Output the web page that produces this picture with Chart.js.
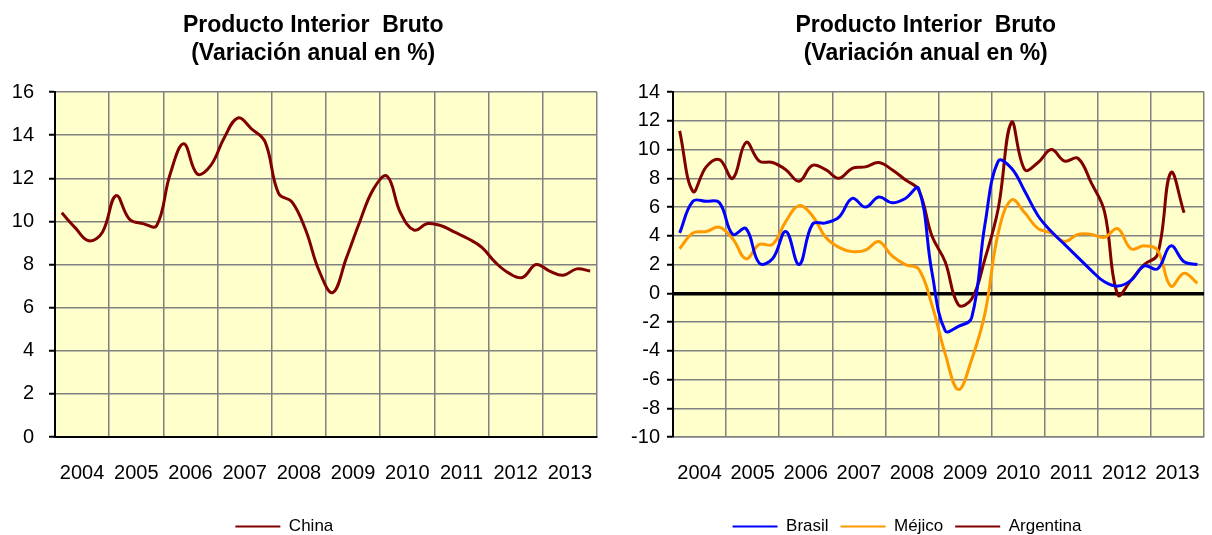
<!DOCTYPE html>
<html>
<head>
<meta charset="utf-8">
<title>Producto Interior Bruto</title>
<script src="https://cdn.jsdelivr.net/npm/chart.js@4/dist/chart.umd.min.js"></script>
<style>
  html, body { margin: 0; padding: 0; background: #fff; }
  .box { position: absolute; top: 0; height: 535px; }
  #left { left: 0; width: 610px; }
  #right { left: 610px; width: 602px; }
</style>
</head>
<body>
<div class="box" id="left"><canvas id="chinaChart"></canvas></div>
<div class="box" id="right"><canvas id="latamChart"></canvas></div>
<script>
// años del eje X (cada uno con 4 trimestres)
const years = ["2004", "2005", "2006", "2007", "2008", "2009", "2010", "2011", "2012", "2013"];
const quarters = years.flatMap(y => ["I", "II", "III", "IV"].map(q => q + " " + y));

// PIB, variación anual en %, trimestral
const china = [10.4, 9.7, 9.1, 9.5, 11.2, 10.1, 9.9, 9.8, 12.2, 13.6,
  12.2, 12.6, 13.9, 14.8, 14.3, 13.7, 11.3, 10.9, 9.6, 7.7,
  6.7, 8.3, 10.0, 11.5, 12.1, 10.4, 9.6, 9.9, 9.8, 9.5,
  9.2, 8.8, 8.1, 7.6, 7.4, 8.0, 7.7, 7.5, 7.8, 7.7];

const brasil = [4.2, 6.4, 6.4, 6.3, 4.1, 4.5, 2.1, 2.4, 4.3, 2.0,
  4.8, 4.9, 5.3, 6.6, 6.0, 6.7, 6.3, 6.6, 7.3, 1.5,
  -2.6, -2.3, -1.7, 4.8, 9.2, 8.7, 7.1, 5.4, 4.3, 3.4,
  2.5, 1.6, 0.8, 0.5, 0.9, 1.9, 1.7, 3.3, 2.2, 2.0];

const mejico = [3.1, 4.2, 4.3, 4.6, 3.8, 2.4, 3.4, 3.4, 5.0, 6.1,
  5.4, 3.9, 3.2, 2.9, 3.0, 3.6, 2.6, 2.0, 1.7, -0.8,
  -4.2, -6.7, -4.6, -1.4, 4.2, 6.5, 5.6, 4.5, 4.2, 3.6,
  4.1, 4.1, 3.9, 4.5, 3.1, 3.3, 3.0, 0.5, 1.4, 0.7];

const argentina = [11.3, 7.1, 8.8, 9.3, 8.0, 10.5, 9.2, 9.1, 8.6, 7.8,
  8.9, 8.6, 8.0, 8.7, 8.8, 9.1, 8.6, 7.9, 7.2, 4.0,
  2.2, -0.8, -0.4, 2.4, 5.9, 11.9, 8.6, 9.1, 10.0, 9.2,
  9.4, 7.7, 5.7, -0.1, 0.9, 2.0, 2.7, 8.4, 5.6];

// los espacios finales desplazan el título un poco a la izquierda, como en el original
const titleLines = ["Producto Interior  Bruto    ", "(Variación anual en %)    "];

Chart.defaults.font.family = '"Liberation Sans", Arial, sans-serif';
Chart.defaults.color = "#000";

const GRID = "#808080";

// fondo amarillo del área de trazado
const plotBg = {
  id: "plotBg",
  beforeDraw(chart) {
    const a = chart.chartArea;
    const ctx = chart.ctx;
    ctx.save();
    ctx.fillStyle = "#FFFFCC";
    ctx.fillRect(a.left, a.top, a.right - a.left, a.bottom - a.top);
    ctx.restore();
  }
};

function line(label, data, color) {
  return {
    label: label,
    data: data,
    borderColor: color,
    backgroundColor: color,
    borderWidth: 3,
    pointRadius: 0,
    tension: 0.4,
    fill: false
  };
}

function makeChart(id, datasets, yOpts, axisWidth, padRight, xBorder, legendTail) {
  return new Chart(document.getElementById(id), {
    type: "line",
    data: { labels: quarters, datasets: datasets },
    plugins: [plotBg],
    options: {
      responsive: true,
      maintainAspectRatio: false,
      animation: false,
      devicePixelRatio: 1,
      layout: { padding: { left: 0, right: padRight, top: 0, bottom: -10 } },
      scales: {
        x: {
          type: "category",
          offset: true,
          weight: 0,
          grid: {
            offset: true,
            drawTicks: false,
            lineWidth: 1.5,
            color: ctx => (ctx.index === undefined || ctx.index % 4 === 0) ? GRID : "rgba(0,0,0,0)"
          },
          ticks: { display: false, autoSkip: false },
          border: xBorder
        },
        years: {
          type: "category",
          labels: years,
          offset: true,
          position: "bottom",
          weight: 1,
          // la distancia a las etiquetas va en tickLength (marcas invisibles)
          grid: { display: false, drawTicks: true, tickLength: 24, tickColor: "rgba(0,0,0,0)" },
          border: { display: false },
          ticks: { autoSkip: false, maxRotation: 0, padding: 0, font: { size: 20 } },
          afterFit: s => { s.height = 69; }
        },
        y: Object.assign({
          afterFit: s => { s.width = axisWidth; }
        }, yOpts)
      },
      plugins: {
        title: {
          display: true,
          text: titleLines,
          fullSize: false,
          font: { size: 23, weight: "bold", lineHeight: 1.22 },
          padding: { top: 12, bottom: 24 }
        },
        legend: {
          position: "bottom",
          labels: {
            boxWidth: 45,
            boxHeight: 2,
            padding: 12,
            font: { size: 17 },
            generateLabels: chart => Chart.defaults.plugins.legend.labels.generateLabels(chart)
              .map(l => Object.assign(l, { lineWidth: 0, fillStyle: l.strokeStyle, text: l.text + legendTail }))
          }
        },
        tooltip: { enabled: false }
      }
    }
  });
}

makeChart("chinaChart", [line("China", china, "#800000")], {
  min: 0,
  max: 16,
  ticks: { stepSize: 2, padding: 15, font: { size: 20 } },
  grid: { color: GRID, lineWidth: 1.5, tickColor: "#000", tickLength: 6, tickWidth: 2 },
  border: { color: "#000", width: 2 }
}, 55, 13, { color: "#000", width: 2 }, "      ");

makeChart("latamChart", [
  line("Brasil", brasil, "#0000FF"),
  line("Méjico", mejico, "#FF9900"),
  line("Argentina", argentina, "#800000")
], {
  min: -10,
  max: 14,
  ticks: { stepSize: 2, padding: 7, font: { size: 20 } },
  grid: {
    color: ctx => ctx.tick && ctx.tick.value === 0 ? "#000" : GRID,
    lineWidth: ctx => ctx.tick && ctx.tick.value === 0 ? 3.5 : 1.5,
    tickColor: "#000",
    tickLength: 6,
    tickWidth: 2
  },
  border: { color: "#000", width: 2 }
}, 63, 8, { color: GRID, width: 1.5 }, "");
</script>
</body>
</html>
